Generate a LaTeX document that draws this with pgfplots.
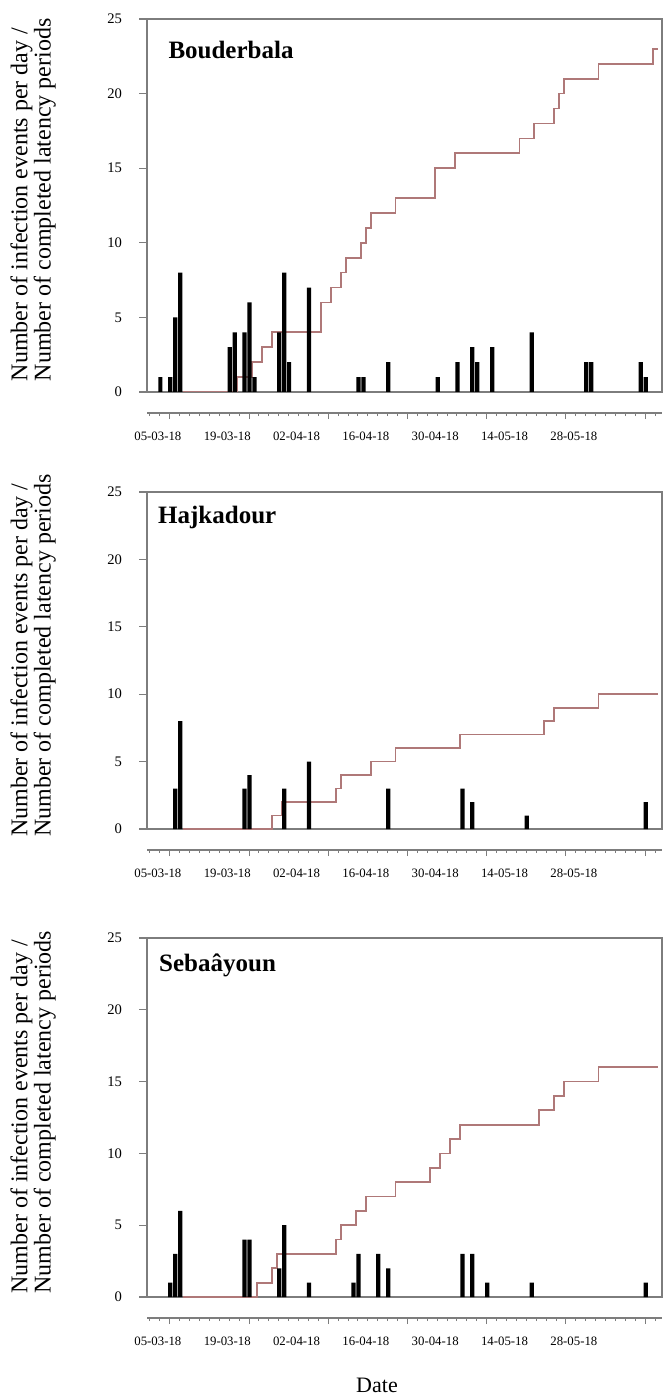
\documentclass[border=0pt]{standalone}
\usepackage{fontspec}
\setmainfont{Liberation Serif}
\usepackage{pgfplots}
\pgfplotsset{compat=1.18}
\usepackage{pgfplotstable}

\definecolor{stepc}{RGB}{175,120,120}
\definecolor{framec}{RGB}{125,125,125}

% Panel 1: Bouderbala (day 0 = 05-03-18)
\pgfplotstableread{
d n
0 1
2 1
3 5
4 8
14 3
15 4
17 4
18 6
19 1
24 4
25 8
26 2
30 7
40 1
41 1
46 2
56 1
60 2
63 3
64 2
67 3
75 4
86 2
87 2
97 2
98 1
}\barsA
\pgfplotstableread{
d c
5 0
16 1
19 2
21 3
23 4
33 6
35 7
37 8
38 9
41 10
42 11
43 12
48 13
56 15
60 16
73 17
76 18
80 19
81 20
82 21
89 22
100 23
101 23
}\stepA

% Panel 2: Hajkadour
\pgfplotstableread{
d n
3 3
4 8
17 3
18 4
25 3
30 5
46 3
61 3
63 2
74 1
98 2
}\barsB
\pgfplotstableread{
d c
5 0
23 1
25 2
36 3
37 4
43 5
48 6
61 7
78 8
80 9
89 10
101 10
}\stepB

% Panel 3: Sebaayoun
\pgfplotstableread{
d n
2 1
3 3
4 6
17 4
18 4
24 2
25 5
30 1
39 1
40 3
44 3
46 2
61 3
63 3
66 1
75 1
98 1
}\barsC
\pgfplotstableread{
d c
5 0
20 1
23 2
24 3
36 4
37 5
40 6
42 7
48 8
55 9
57 10
59 11
61 12
77 13
80 14
82 15
89 16
101 16
}\stepC

\pgfplotsset{
  panel/.style={
    scale only axis, width=257.5pt,
    xmin=-2.2, xmax=101.8, ymin=0, ymax=25,
    ytick={0,5,...,25}, xtick=\empty, ytick pos=left,
    tick align=outside, major tick length=4pt,
    axis line style={framec, line width=0.8pt},
    tick style={framec, line width=0.6pt},
    yticklabel style={font=\fontsize{7.3}{8}\selectfont, xshift=-5pt},
    /pgf/number format/assume math mode=true,
    ylabel={Number of infection events per day /\\Number of completed latency periods},
    every axis y label/.style={at={(axis description cs:-0.221,0.515)}, rotate=90, anchor=center,
      align=left, font=\fontsize{12}{11.7}\selectfont},
  },
  dateaxis/.style={
    scale only axis, width=257.5pt, height=10pt,
    xmin=-2.2, xmax=101.8, ymin=0, ymax=1,
    axis y line=none, axis x line=bottom,
    axis line style={-},
    x axis line style={-, framec, line width=0.6pt},
    tick align=outside,
    xtick={2.4,18.4,...,98.4}, xticklabels={},
    major tick length=3pt, minor tick length=1.6pt,
    minor xtick={-1.6,0.4,...,100.4},
    tick style={framec, line width=0.5pt},
    extra x ticks={0,14,...,84},
    extra x tick labels={05-03-18,19-03-18,02-04-18,16-04-18,30-04-18,14-05-18,28-05-18},
    extra x tick style={major tick length=0pt, tick style={draw=none}},
    xticklabel style={font=\fontsize{6.4}{7}\selectfont, yshift=-6pt},
  },
  bars/.style={ybar, bar width=0.85, fill=black, draw=none},
  steps/.style={const plot, color=stepc, line width=0.85pt},
}

\begin{document}
\begin{tikzpicture}
\path[use as bounding box] (0,0) rectangle (335pt,-700pt);

% ---------- Panel 1 ----------
\begin{axis}[panel, at={(73.5pt,-196pt)}, anchor=south west, height=186.5pt]
\addplot[steps] table[x=d, y=c] {\stepA};
\addplot[bars] table[x expr=\thisrow{d}+0.5, y=n] {\barsA};
\node[anchor=west, inner sep=0pt, font=\bfseries\fontsize{12.5}{14}\selectfont] at (rel axis cs:0.041,0.917) {Bouderbala};
\end{axis}
\begin{axis}[dateaxis, at={(73.5pt,-206.5pt)}, anchor=south west]
\end{axis}

% ---------- Panel 2 ----------
\begin{axis}[panel, at={(73.5pt,-414.5pt)}, anchor=south west, height=168.5pt]
\addplot[steps] table[x=d, y=c] {\stepB};
\addplot[bars] table[x expr=\thisrow{d}+0.5, y=n] {\barsB};
\node[anchor=west, inner sep=0pt, font=\bfseries\fontsize{12.5}{14}\selectfont] at (rel axis cs:0.021,0.923) {Hajkadour};
\end{axis}
\begin{axis}[dateaxis, at={(73.5pt,-425pt)}, anchor=south west]
\end{axis}

% ---------- Panel 3 ----------
\begin{axis}[panel, at={(73.5pt,-648.5pt)}, anchor=south west, height=179.5pt]
\addplot[steps] table[x=d, y=c] {\stepC};
\addplot[bars] table[x expr=\thisrow{d}+0.5, y=n] {\barsC};
\node[anchor=west, inner sep=0pt, font=\bfseries\fontsize{12.5}{14}\selectfont] at (rel axis cs:0.023,0.925) {Sebaâyoun};
\end{axis}
\begin{axis}[dateaxis, at={(73.5pt,-659pt)}, anchor=south west]
\end{axis}

\node[font=\fontsize{11}{12}\selectfont] at (188.5pt,-692.5pt) {Date};
\end{tikzpicture}
\end{document}
